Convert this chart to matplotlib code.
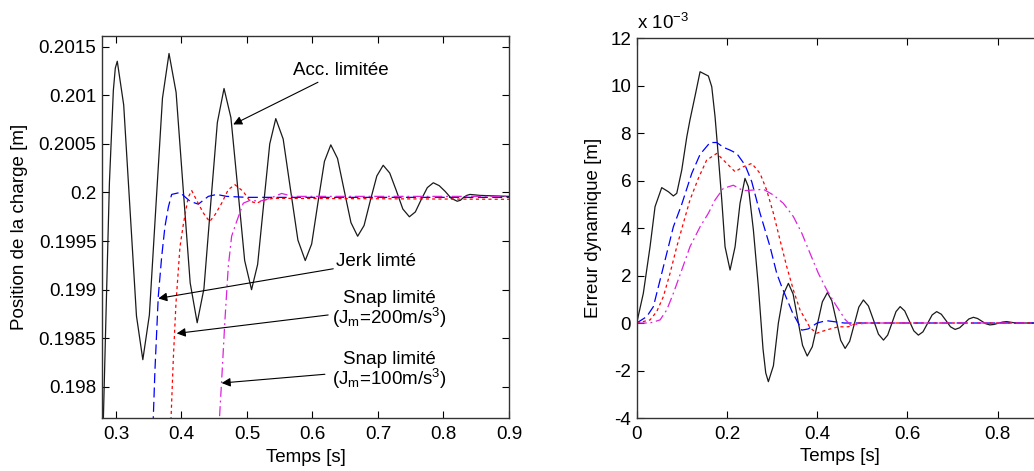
import matplotlib
matplotlib.use("Agg")
import matplotlib.pyplot as plt
from matplotlib.ticker import FuncFormatter

plt.rcParams['font.family'] = ['Liberation Sans', 'DejaVu Sans']
plt.rcParams['mathtext.default'] = 'regular'

# ---- left panel: load position [m] ----
acc_t_left = [0.2790, 0.2850, 0.2900, 0.2960, 0.2990, 0.3020,
              0.3118, 0.3215, 0.3313, 0.3410, 0.3510, 0.3610, 0.3710, 0.3810,
              0.3918, 0.4025, 0.4133, 0.4240, 0.4343, 0.4445, 0.4548, 0.4650,
              0.4755, 0.4860, 0.4965, 0.5070, 0.5163, 0.5255, 0.5348, 0.5440,
              0.5553, 0.5665, 0.5778, 0.5890, 0.5988, 0.6085, 0.6183, 0.6280,
              0.6383, 0.6485, 0.6588, 0.6690, 0.6788, 0.6885, 0.6983, 0.7080,
              0.7180, 0.7280, 0.7380, 0.7480, 0.7571, 0.7663, 0.7754, 0.7845,
              0.7936, 0.8028, 0.8119, 0.8210, 0.8259, 0.8308, 0.8356, 0.8405,
              0.8560, 0.9000]
acc_y_left = [0.19720, 0.19880, 0.20010, 0.20105, 0.20128, 0.20135,
              0.20090, 0.19982, 0.19873, 0.19828, 0.19874, 0.19986, 0.20097, 0.20143,
              0.20103, 0.20005, 0.19907, 0.19866, 0.19901, 0.19987, 0.20072, 0.20107,
              0.20077, 0.20004, 0.19930, 0.19900, 0.19926, 0.19988, 0.20050, 0.20076,
              0.20055, 0.20003, 0.19951, 0.19930, 0.19947, 0.19990, 0.20032, 0.20049,
              0.20035, 0.20002, 0.19969, 0.19955, 0.19966, 0.19992, 0.20017, 0.20028,
              0.20020, 0.20002, 0.19983, 0.19975, 0.19980, 0.19993, 0.20005, 0.20010,
              0.20007, 0.20001, 0.19994, 0.19991, 0.19992, 0.19995, 0.19997, 0.19998,
              0.19997, 0.19996]

jerk_t_left = [0.3550, 0.3595, 0.3646, 0.3698, 0.3748, 0.3800, 0.3850, 0.3977, 0.4130, 0.4257,
               0.4410, 0.4537, 0.4690, 0.5000, 0.9000]
jerk_y_left = [0.19730, 0.19817, 0.19893, 0.19934, 0.19965, 0.19985, 0.19998, 0.20000, 0.19991, 0.19988,
               0.19996, 0.19998, 0.19996, 0.19995, 0.19995]

snap200_t_left = [0.3825, 0.3875, 0.3916, 0.3977, 0.4028, 0.4103, 0.4156, 0.4232, 0.4333, 0.4430,
                  0.4511, 0.4614, 0.4715, 0.4817, 0.4944, 0.5046, 0.5148, 0.5250, 0.5400, 0.9000]
snap200_y_left = [0.19740, 0.19828, 0.19886, 0.19944, 0.19967, 0.19995, 0.20002, 0.19992, 0.19979, 0.19970,
                  0.19977, 0.19989, 0.20003, 0.20008, 0.20001, 0.19991, 0.19989, 0.19992, 0.19994, 0.19993]

snap100_t_left = [0.4565, 0.4614, 0.4664, 0.4715, 0.4766, 0.4842, 0.4944, 0.5050, 0.5198, 0.5350,
                  0.5530, 0.5700, 0.9000]
snap100_y_left = [0.19750, 0.19807, 0.19869, 0.19924, 0.19955, 0.19970, 0.19989, 0.19992, 0.19991, 0.19994,
                  0.19999, 0.19996, 0.19996]

# ---- right panel: dynamic error [x1e-3 m] ----
acc_t_right = [0, 0.0146, 0.0295, 0.0406, 0.0554, 0.0700, 0.0812, 0.0887, 0.0998, 0.1110,
               0.1180, 0.1293, 0.1404, 0.1588, 0.1663, 0.1736, 0.1810, 0.1885, 0.1958, 0.2069,
               0.2180, 0.2290, 0.2400, 0.2475, 0.2586, 0.2697, 0.2800, 0.2860, 0.2918,
               0.3030, 0.3140, 0.3250, 0.3362, 0.3467, 0.3571, 0.3676, 0.3780,
               0.3892, 0.4004, 0.4115, 0.4227, 0.4325, 0.4424, 0.4522, 0.4620,
               0.4721, 0.4823, 0.4924, 0.5025, 0.5136, 0.5248, 0.5359, 0.5470,
               0.5563, 0.5655, 0.5748, 0.5840, 0.5941, 0.6042, 0.6143, 0.6244,
               0.6346, 0.6447, 0.6549, 0.6650, 0.6752, 0.6854, 0.6956, 0.7058,
               0.7160, 0.7261, 0.7363, 0.7464, 0.7556, 0.7647, 0.7739, 0.7830,
               0.7920, 0.8015, 0.8110, 0.8200, 0.8400, 0.9000]
acc_e_right = [0, 1.25, 3.21, 4.90, 5.70, 5.53, 5.35, 5.46, 6.44, 7.84,
               8.55, 9.56, 10.58, 10.40, 9.95, 8.69, 7.00, 5.18, 3.21, 2.23,
               3.21, 5.04, 6.09, 5.74, 3.92, 1.53, -1.10, -2.10, -2.47,
               -1.80, 0.00, 1.20, 1.67, 1.22, 0.14, -0.94, -1.39,
               -1.00, -0.06, 0.89, 1.28, 0.94, 0.11, -0.73, -1.07,
               -0.77, -0.05, 0.67, 0.97, 0.72, 0.13, -0.47, -0.72,
               -0.51, -0.02, 0.48, 0.69, 0.51, 0.09, -0.33, -0.51,
               -0.37, -0.02, 0.34, 0.48, 0.37, 0.11, -0.16, -0.27,
               -0.20, -0.02, 0.17, 0.24, 0.19, 0.08, -0.03, -0.08,
               -0.06, -0.01, 0.04, 0.06, 0.00, 0.00]

jerk_t_right = [0, 0.0222, 0.0369, 0.0517, 0.0665, 0.0812, 0.0998, 0.1220, 0.1404, 0.1625,
                0.1774, 0.1920, 0.2069, 0.2217, 0.2401, 0.2550, 0.2734, 0.2956, 0.3104, 0.3200,
                0.3330, 0.3450, 0.3580, 0.3660, 0.3800, 0.4000, 0.4200, 0.4400, 0.4600, 0.9000]
jerk_e_right = [0, 0.27, 0.69, 1.81, 2.93, 4.05, 5.00, 6.30, 7.10, 7.60,
                7.60, 7.40, 7.28, 7.14, 6.65, 5.95, 4.62, 3.21, 2.09, 1.60,
                1.00, 0.45, 0.00, -0.30, -0.25, 0.00, 0.10, 0.05, 0.00, 0.00]

snap200_t_right = [0, 0.0295, 0.0443, 0.0590, 0.0738, 0.0887, 0.1033, 0.1180, 0.1366, 0.1550,
                   0.1774, 0.1958, 0.2180, 0.2364, 0.2550, 0.2734, 0.2880, 0.3030, 0.3177, 0.3326,
                   0.3473, 0.3620, 0.3843, 0.3990, 0.4210, 0.4470, 0.4690, 0.4880, 0.9000]
snap200_e_right = [0, 0.13, 0.48, 1.11, 2.09, 3.21, 4.20, 5.18, 6.09, 6.86,
                   7.14, 6.79, 6.37, 6.58, 6.72, 6.30, 5.60, 4.62, 3.49, 2.37,
                   1.39, 0.55, -0.20, -0.43, -0.29, -0.16, -0.16, 0.00, 0.00]

snap100_t_right = [0, 0.0295, 0.0517, 0.0665, 0.0812, 0.0998, 0.1180, 0.1404, 0.1588, 0.1736,
                   0.1920, 0.2142, 0.2364, 0.2586, 0.2808, 0.3030, 0.3250, 0.3473, 0.3660, 0.3843,
                   0.4027, 0.4213, 0.4400, 0.4620, 0.4750, 0.4900, 0.5100, 0.9000]
snap100_e_right = [0, 0.00, 0.13, 0.55, 1.25, 2.23, 3.21, 4.05, 4.62, 5.18,
                   5.67, 5.80, 5.57, 5.60, 5.63, 5.39, 5.04, 4.48, 3.78, 2.93,
                   2.09, 1.39, 0.80, 0.15, -0.10, -0.05, 0.00, 0.00]

left_xticks = [0.3, 0.4, 0.5, 0.6, 0.7, 0.8, 0.9]
left_yticks = [0.198, 0.1985, 0.199, 0.1995, 0.2, 0.2005, 0.201, 0.2015]
right_xticks = [0, 0.2, 0.4, 0.6, 0.8]
right_yticks = [-4, -2, 0, 2, 4, 6, 8, 10, 12]

BLACK = '#1a1a1a'
BLUE = '#0000ff'
RED = '#ff0000'
MAG = '#dd22dd'
LW = 0.9

fig = plt.figure(figsize=(10.34, 4.71), dpi=100)
ax1 = fig.add_axes([0.0986, 0.1125, 0.3936, 0.8111])
ax2 = fig.add_axes([0.6158, 0.1125, 0.3926, 0.8068])

fmt = FuncFormatter(lambda v, p: '%g' % v)

for ax in (ax1, ax2):
    ax.tick_params(direction='in', length=5, width=0.8, top=True, right=True,
                   labelsize=13.6, colors='black')
    ax.tick_params(axis='x', pad=6)
    ax.tick_params(axis='y', pad=4)
    for s in ax.spines.values():
        s.set_linewidth(1.0)
        s.set_color('#333333')
    ax.xaxis.set_major_formatter(fmt)
    ax.yaxis.set_major_formatter(fmt)

# left panel
ax1.plot(acc_t_left, acc_y_left, color=BLACK, lw=LW)
ax1.plot(jerk_t_left, jerk_y_left, color=BLUE, lw=LW, dashes=(8, 3.5))
ax1.plot(snap200_t_left, snap200_y_left, color=RED, lw=LW, dashes=(2.5, 2.5))
ax1.plot(snap100_t_left, snap100_y_left, color=MAG, lw=LW, dashes=(8, 3, 1.5, 3))
ax1.set_xlim(0.2786, 0.9)
ax1.set_ylim(0.19768, 0.20161)
ax1.set_xticks(left_xticks)
ax1.set_yticks(left_yticks)
ax1.set_xlabel('Temps [s]', fontsize=13.5)
ax1.set_ylabel('Position de la charge [m]', fontsize=13.5)
ax1.yaxis.set_label_coords(-0.182, 0.5)
ax1.xaxis.set_label_coords(0.5, -0.08)

arrow = dict(arrowstyle='-|>', color='black', lw=0.8, mutation_scale=13, shrinkA=0, shrinkB=0)
ax1.annotate('Acc. limitée', xy=(0.479, 0.20070), xytext=(0.570, 0.20125),
             fontsize=13.5, ha='left', va='center', arrowprops=arrow)
ax1.annotate('Jerk limté', xy=(0.3646, 0.19891), xytext=(0.6360, 0.19929),
             fontsize=13.5, ha='left', va='center', arrowprops=arrow)
ax1.annotate('', xy=(0.3927, 0.19855), xytext=(0.624, 0.19874), arrowprops=arrow)
ax1.annotate('', xy=(0.4614, 0.19804), xytext=(0.619, 0.19813), arrowprops=arrow)
ax1.text(0.718, 0.19879, 'Snap limité\n(J$_m$=200m/s$^3$)', fontsize=13.5,
         ha='center', va='center', linespacing=0.95)
ax1.text(0.718, 0.19816, 'Snap limité\n(J$_m$=100m/s$^3$)', fontsize=13.5,
         ha='center', va='center', linespacing=0.95)

# right panel
ax2.plot(acc_t_right, acc_e_right, color=BLACK, lw=LW)
ax2.plot(jerk_t_right, jerk_e_right, color=BLUE, lw=LW, dashes=(8, 3.5))
ax2.plot(snap200_t_right, snap200_e_right, color=RED, lw=LW, dashes=(2.5, 2.5))
ax2.plot(snap100_t_right, snap100_e_right, color=MAG, lw=LW, dashes=(8, 3, 1.5, 3))
ax2.set_xlim(0, 0.9)
ax2.set_ylim(-4, 12)
ax2.set_xticks(right_xticks)
ax2.set_yticks(right_yticks)
ax2.set_xlabel('Temps [s]', fontsize=13.5)
ax2.set_ylabel('Erreur dynamique [m]', fontsize=13.5)
ax2.yaxis.set_label_coords(-0.086, 0.5)
ax2.xaxis.set_label_coords(0.5, -0.08)
ax2.text(0.0, 1.012, 'x 10$^{-3}$', transform=ax2.transAxes, fontsize=13.5,
         ha='left', va='bottom')

fig.savefig('out.png', dpi=100)
